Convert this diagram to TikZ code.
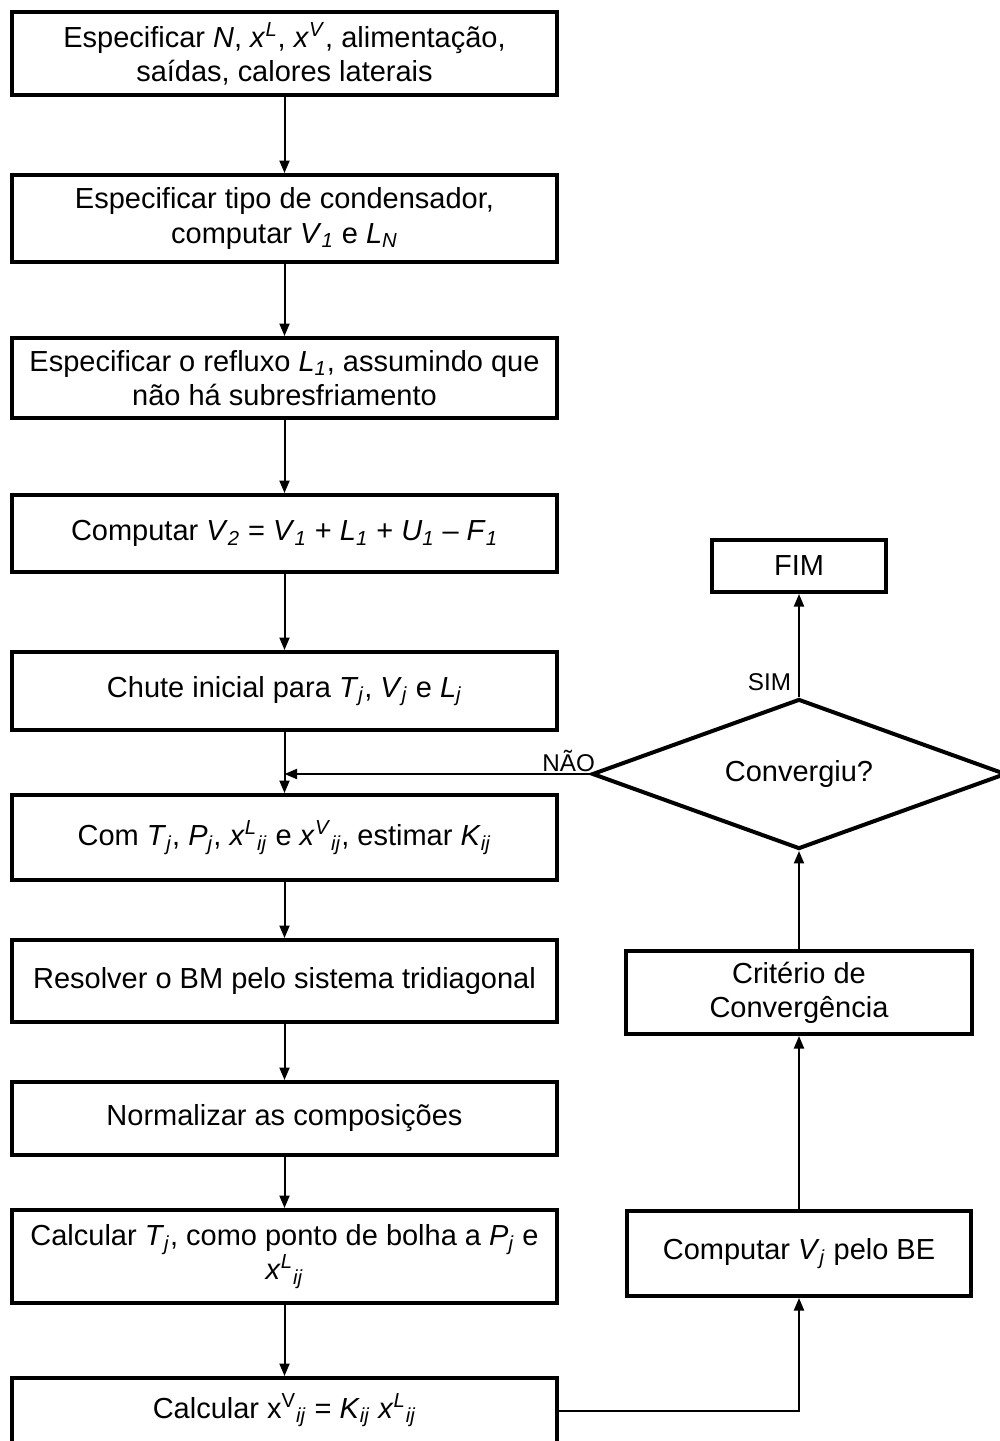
\documentclass[tikz,border=0pt]{standalone}
\usepackage{fontspec}
\setmainfont{Liberation Sans}
\usetikzlibrary{shapes.geometric,arrows.meta}
\newcommand{\isub}[1]{\textsubscript{\textit{#1}}}
\newcommand{\isup}[1]{\textsuperscript{\textit{#1}}}
\tikzset{
  box/.style={draw, line width=0.08cm, rectangle, align=center, inner sep=2pt,
    font=\fontsize{16.5}{19.4}\selectfont},
  lbox/.style={box, minimum width=10.9cm},
  decision/.style={draw, line width=0.08cm, diamond, inner sep=0pt, aspect=2.7,
    minimum width=8.28cm, minimum height=3.0cm, font=\fontsize{16.5}{19.4}\selectfont},
  arr/.style={line width=0.04cm, -{Triangle[length=0.25cm,width=0.2cm]}},
  lab/.style={font=\fontsize{13.8}{16}\selectfont, inner sep=1pt},
  plaintext/.style={align=center, inner sep=0pt, font=\fontsize{16.5}{19.4}\selectfont}
}
\begin{document}
\begin{tikzpicture}[x=0.02cm,y=-0.02cm]
\useasboundingbox (0,0) rectangle (1000,1441);
% left column
\node[lbox, minimum height=1.66cm] (b1) at (284.5,53.5)
  {Especificar \textit{N}, \textit{x}\isup{L}, \textit{x}\isup{V}, alimentação,\\ saídas, calores laterais};
\node[lbox, minimum height=1.74cm] (b2) at (284.5,218.5)
  {Especificar tipo de condensador,\\ computar \textit{V}\isub{1} e \textit{L}\isub{N}};
\node[lbox, minimum height=1.6cm] (b3) at (284.5,378)
  {Especificar o refluxo \textit{L}\isub{1}, assumindo que\\ não há subresfriamento};
\node[lbox, minimum height=1.54cm] (b4) at (284.5,533.5)
  {Computar \textit{V}\isub{2} = \textit{V}\isub{1} + \textit{L}\isub{1} + \textit{U}\isub{1} – \textit{F}\isub{1}};
\node[lbox, minimum height=1.56cm] (b5) at (284.5,691)
  {Chute inicial para \textit{T}\isub{j}, \textit{V}\isub{j} e \textit{L}\isub{j}};
\node[lbox, minimum height=1.7cm] (b6) at (284.5,837.5)
  {Com \textit{T}\isub{j}, \textit{P}\isub{j}, \textit{x}\isup{L}\isub{ij} e \textit{x}\isup{V}\isub{ij}, estimar \textit{K}\isub{ij}};
\node[lbox, minimum height=1.64cm] (b7) at (284.5,981)
  {Resolver o BM pelo sistema tridiagonal};
\node[lbox, minimum height=1.46cm] (b8) at (284.5,1118.5)
  {Normalizar as composições};
\node[lbox, minimum height=1.86cm] (b9) at (284.5,1256.5)
  {Calcular \textit{T}\isub{j}, como ponto de bolha a \textit{P}\isub{j} e\\ \textit{x}\isup{L}\isub{ij}};
\node[lbox, minimum height=1.84cm] (b10) at (284.5,1424) {};
\node[plaintext] (t10) at (284.5,1410)
  {Calcular x\textsuperscript{V}\isub{ij} = \textit{K}\isub{ij} \textit{x}\isup{L}\isub{ij}};
% right column
\node[box, minimum width=3.48cm, minimum height=1.04cm] (fim) at (799,566) {FIM};
\node[decision] (conv) at (799,774) {Convergiu?};
\node[box, minimum width=6.94cm, minimum height=1.66cm] (crit) at (799,992.5)
  {Critério de\\ Convergência};
\node[box, minimum width=6.9cm, minimum height=1.7cm] (vb) at (799,1253.5)
  {Computar \textit{V}\isub{j} pelo BE};
% connectors
\draw[arr] (b1.south) -- (b2.north);
\draw[arr] (b2.south) -- (b3.north);
\draw[arr] (b3.south) -- (b4.north);
\draw[arr] (b4.south) -- (b5.north);
\draw[arr] (b5.south) -- (b6.north);
\draw[arr] (b6.south) -- (b7.north);
\draw[arr] (b7.south) -- (b8.north);
\draw[arr] (b8.south) -- (b9.north);
\draw[arr] (b9.south) -- (b10.north);
\draw[arr] ([yshift=0.26cm]b10.east) -| (vb.south);
\draw[arr] (vb.north) -- (crit.south);
\draw[arr] (crit.north) -- (conv.south);
\draw[arr] (conv.north) -- node[lab, pos=0.0, anchor=south east, xshift=-3pt, yshift=2pt] {SIM} (fim.south);
\draw[arr] (conv.west) -- node[lab, pos=0.07, anchor=south] {NÃO} (conv.west -| b5.south);
\end{tikzpicture}
\end{document}
